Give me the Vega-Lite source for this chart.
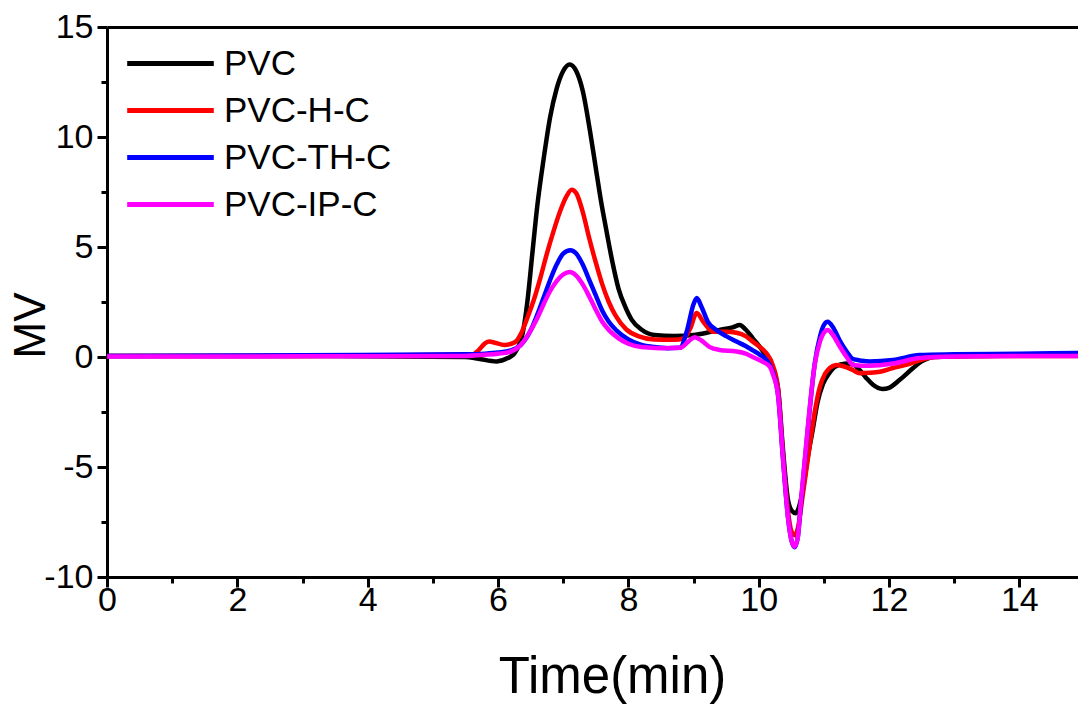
{
  "$schema": "https://vega.github.io/schema/vega-lite/v6.json",
  "autosize": {"type": "none"},
  "padding": {"left": 107, "top": 27, "right": 0, "bottom": 127},
  "width": 971,
  "height": 550,
  "background": "white",
  "config": {"view": {"stroke": null}, "font": "Liberation Sans"},
  "datasets": {
    "curves": [
      {"s":"PVC","t":0,"v":0.05},{"s":"PVC","t":3,"v":0.05},{"s":"PVC","t":5.5,"v":0.0},{"s":"PVC","t":5.7,"v":-0.08},{"s":"PVC","t":5.98,"v":-0.2},{"s":"PVC","t":6.15,"v":-0.05},{"s":"PVC","t":6.25,"v":0.15},{"s":"PVC","t":6.33,"v":0.6},{"s":"PVC","t":6.38,"v":1.1},{"s":"PVC","t":6.45,"v":2.5},{"s":"PVC","t":6.53,"v":4.8},{"s":"PVC","t":6.6,"v":6.8},{"s":"PVC","t":6.7,"v":9.0},{"s":"PVC","t":6.8,"v":10.9},{"s":"PVC","t":6.9,"v":12.2},{"s":"PVC","t":7.0,"v":13.0},{"s":"PVC","t":7.1,"v":13.3},{"s":"PVC","t":7.2,"v":13.0},{"s":"PVC","t":7.3,"v":12.1},{"s":"PVC","t":7.41,"v":10.3},{"s":"PVC","t":7.5,"v":8.6},{"s":"PVC","t":7.58,"v":7.1},{"s":"PVC","t":7.66,"v":5.8},{"s":"PVC","t":7.75,"v":4.4},{"s":"PVC","t":7.85,"v":3.1},{"s":"PVC","t":7.95,"v":2.3},{"s":"PVC","t":8.05,"v":1.7},{"s":"PVC","t":8.2,"v":1.25},{"s":"PVC","t":8.4,"v":1.0},{"s":"PVC","t":8.7,"v":0.95},{"s":"PVC","t":9.0,"v":1.0},{"s":"PVC","t":9.2,"v":1.1},{"s":"PVC","t":9.4,"v":1.23},{"s":"PVC","t":9.6,"v":1.35},{"s":"PVC","t":9.71,"v":1.45},{"s":"PVC","t":9.8,"v":1.25},{"s":"PVC","t":9.91,"v":0.85},{"s":"PVC","t":10.02,"v":0.45},{"s":"PVC","t":10.12,"v":0.02},{"s":"PVC","t":10.22,"v":-0.6},{"s":"PVC","t":10.3,"v":-1.5},{"s":"PVC","t":10.37,"v":-4.1},{"s":"PVC","t":10.45,"v":-6.5},{"s":"PVC","t":10.51,"v":-7.0},{"s":"PVC","t":10.57,"v":-7.1},{"s":"PVC","t":10.62,"v":-6.8},{"s":"PVC","t":10.68,"v":-6.0},{"s":"PVC","t":10.75,"v":-4.6},{"s":"PVC","t":10.83,"v":-3.3},{"s":"PVC","t":10.9,"v":-2.1},{"s":"PVC","t":10.99,"v":-1.2},{"s":"PVC","t":11.08,"v":-0.75},{"s":"PVC","t":11.17,"v":-0.45},{"s":"PVC","t":11.34,"v":-0.3},{"s":"PVC","t":11.45,"v":-0.35},{"s":"PVC","t":11.55,"v":-0.6},{"s":"PVC","t":11.65,"v":-0.95},{"s":"PVC","t":11.75,"v":-1.25},{"s":"PVC","t":11.9,"v":-1.45},{"s":"PVC","t":12.0,"v":-1.4},{"s":"PVC","t":12.16,"v":-1.05},{"s":"PVC","t":12.37,"v":-0.5},{"s":"PVC","t":12.5,"v":-0.2},{"s":"PVC","t":12.7,"v":0.0},{"s":"PVC","t":13.5,"v":0.05},{"s":"PVC","t":15,"v":0.1},
      {"s":"PVC-H-C","t":0,"v":0.05},{"s":"PVC-H-C","t":3,"v":0.05},{"s":"PVC-H-C","t":5.6,"v":0.1},{"s":"PVC-H-C","t":5.7,"v":0.3},{"s":"PVC-H-C","t":5.8,"v":0.62},{"s":"PVC-H-C","t":5.87,"v":0.7},{"s":"PVC-H-C","t":5.95,"v":0.65},{"s":"PVC-H-C","t":6.1,"v":0.55},{"s":"PVC-H-C","t":6.2,"v":0.6},{"s":"PVC-H-C","t":6.28,"v":0.72},{"s":"PVC-H-C","t":6.36,"v":1.1},{"s":"PVC-H-C","t":6.44,"v":1.7},{"s":"PVC-H-C","t":6.55,"v":2.6},{"s":"PVC-H-C","t":6.65,"v":3.6},{"s":"PVC-H-C","t":6.75,"v":4.7},{"s":"PVC-H-C","t":6.85,"v":5.7},{"s":"PVC-H-C","t":6.95,"v":6.6},{"s":"PVC-H-C","t":7.05,"v":7.3},{"s":"PVC-H-C","t":7.13,"v":7.6},{"s":"PVC-H-C","t":7.2,"v":7.45},{"s":"PVC-H-C","t":7.3,"v":6.6},{"s":"PVC-H-C","t":7.4,"v":5.4},{"s":"PVC-H-C","t":7.5,"v":4.3},{"s":"PVC-H-C","t":7.6,"v":3.3},{"s":"PVC-H-C","t":7.7,"v":2.5},{"s":"PVC-H-C","t":7.8,"v":1.9},{"s":"PVC-H-C","t":7.97,"v":1.25},{"s":"PVC-H-C","t":8.15,"v":0.95},{"s":"PVC-H-C","t":8.4,"v":0.8},{"s":"PVC-H-C","t":8.7,"v":0.78},{"s":"PVC-H-C","t":8.85,"v":0.85},{"s":"PVC-H-C","t":8.95,"v":1.3},{"s":"PVC-H-C","t":9.05,"v":2.0},{"s":"PVC-H-C","t":9.15,"v":1.6},{"s":"PVC-H-C","t":9.3,"v":1.15},{"s":"PVC-H-C","t":9.5,"v":1.15},{"s":"PVC-H-C","t":9.66,"v":1.1},{"s":"PVC-H-C","t":9.8,"v":0.95},{"s":"PVC-H-C","t":9.91,"v":0.7},{"s":"PVC-H-C","t":10.02,"v":0.45},{"s":"PVC-H-C","t":10.12,"v":0.17},{"s":"PVC-H-C","t":10.22,"v":-0.4},{"s":"PVC-H-C","t":10.3,"v":-1.5},{"s":"PVC-H-C","t":10.37,"v":-4.3},{"s":"PVC-H-C","t":10.45,"v":-7.0},{"s":"PVC-H-C","t":10.5,"v":-7.9},{"s":"PVC-H-C","t":10.55,"v":-8.1},{"s":"PVC-H-C","t":10.6,"v":-7.8},{"s":"PVC-H-C","t":10.68,"v":-6.2},{"s":"PVC-H-C","t":10.78,"v":-4.1},{"s":"PVC-H-C","t":10.86,"v":-2.5},{"s":"PVC-H-C","t":10.94,"v":-1.35},{"s":"PVC-H-C","t":11.02,"v":-0.75},{"s":"PVC-H-C","t":11.09,"v":-0.5},{"s":"PVC-H-C","t":11.19,"v":-0.36},{"s":"PVC-H-C","t":11.3,"v":-0.42},{"s":"PVC-H-C","t":11.45,"v":-0.6},{"s":"PVC-H-C","t":11.55,"v":-0.74},{"s":"PVC-H-C","t":11.7,"v":-0.72},{"s":"PVC-H-C","t":11.86,"v":-0.67},{"s":"PVC-H-C","t":12.06,"v":-0.5},{"s":"PVC-H-C","t":12.26,"v":-0.36},{"s":"PVC-H-C","t":12.47,"v":-0.15},{"s":"PVC-H-C","t":12.7,"v":0.0},{"s":"PVC-H-C","t":13.5,"v":0.05},{"s":"PVC-H-C","t":15,"v":0.05},
      {"s":"PVC-TH-C","t":0,"v":0.05},{"s":"PVC-TH-C","t":3,"v":0.08},{"s":"PVC-TH-C","t":5.5,"v":0.12},{"s":"PVC-TH-C","t":5.8,"v":0.15},{"s":"PVC-TH-C","t":6.0,"v":0.2},{"s":"PVC-TH-C","t":6.2,"v":0.3},{"s":"PVC-TH-C","t":6.35,"v":0.55},{"s":"PVC-TH-C","t":6.5,"v":1.2},{"s":"PVC-TH-C","t":6.6,"v":1.9},{"s":"PVC-TH-C","t":6.7,"v":2.7},{"s":"PVC-TH-C","t":6.8,"v":3.5},{"s":"PVC-TH-C","t":6.9,"v":4.2},{"s":"PVC-TH-C","t":7.0,"v":4.7},{"s":"PVC-TH-C","t":7.11,"v":4.85},{"s":"PVC-TH-C","t":7.2,"v":4.7},{"s":"PVC-TH-C","t":7.3,"v":4.2},{"s":"PVC-TH-C","t":7.4,"v":3.5},{"s":"PVC-TH-C","t":7.5,"v":2.8},{"s":"PVC-TH-C","t":7.6,"v":2.1},{"s":"PVC-TH-C","t":7.7,"v":1.6},{"s":"PVC-TH-C","t":7.82,"v":1.2},{"s":"PVC-TH-C","t":8.0,"v":0.8},{"s":"PVC-TH-C","t":8.2,"v":0.55},{"s":"PVC-TH-C","t":8.4,"v":0.45},{"s":"PVC-TH-C","t":8.6,"v":0.4},{"s":"PVC-TH-C","t":8.79,"v":0.42},{"s":"PVC-TH-C","t":8.9,"v":1.2},{"s":"PVC-TH-C","t":9.0,"v":2.4},{"s":"PVC-TH-C","t":9.05,"v":2.68},{"s":"PVC-TH-C","t":9.12,"v":2.3},{"s":"PVC-TH-C","t":9.22,"v":1.6},{"s":"PVC-TH-C","t":9.35,"v":1.23},{"s":"PVC-TH-C","t":9.5,"v":0.95},{"s":"PVC-TH-C","t":9.66,"v":0.7},{"s":"PVC-TH-C","t":9.8,"v":0.5},{"s":"PVC-TH-C","t":9.91,"v":0.3},{"s":"PVC-TH-C","t":10.02,"v":0.1},{"s":"PVC-TH-C","t":10.12,"v":-0.14},{"s":"PVC-TH-C","t":10.22,"v":-0.7},{"s":"PVC-TH-C","t":10.3,"v":-1.8},{"s":"PVC-TH-C","t":10.37,"v":-4.5},{"s":"PVC-TH-C","t":10.45,"v":-7.3},{"s":"PVC-TH-C","t":10.5,"v":-8.3},{"s":"PVC-TH-C","t":10.55,"v":-8.65},{"s":"PVC-TH-C","t":10.6,"v":-8.2},{"s":"PVC-TH-C","t":10.65,"v":-6.6},{"s":"PVC-TH-C","t":10.76,"v":-3.1},{"s":"PVC-TH-C","t":10.86,"v":-0.3},{"s":"PVC-TH-C","t":10.94,"v":0.92},{"s":"PVC-TH-C","t":11.0,"v":1.45},{"s":"PVC-TH-C","t":11.06,"v":1.6},{"s":"PVC-TH-C","t":11.14,"v":1.35},{"s":"PVC-TH-C","t":11.24,"v":0.77},{"s":"PVC-TH-C","t":11.35,"v":0.25},{"s":"PVC-TH-C","t":11.45,"v":-0.1},{"s":"PVC-TH-C","t":11.7,"v":-0.2},{"s":"PVC-TH-C","t":12.06,"v":-0.14},{"s":"PVC-TH-C","t":12.47,"v":0.09},{"s":"PVC-TH-C","t":13.0,"v":0.12},{"s":"PVC-TH-C","t":14.0,"v":0.15},{"s":"PVC-TH-C","t":15,"v":0.18},
      {"s":"PVC-IP-C","t":0,"v":0.02},{"s":"PVC-IP-C","t":3,"v":0.03},{"s":"PVC-IP-C","t":5.5,"v":0.05},{"s":"PVC-IP-C","t":5.8,"v":0.1},{"s":"PVC-IP-C","t":6.0,"v":0.15},{"s":"PVC-IP-C","t":6.2,"v":0.25},{"s":"PVC-IP-C","t":6.35,"v":0.55},{"s":"PVC-IP-C","t":6.5,"v":1.2},{"s":"PVC-IP-C","t":6.6,"v":1.75},{"s":"PVC-IP-C","t":6.7,"v":2.4},{"s":"PVC-IP-C","t":6.8,"v":3.0},{"s":"PVC-IP-C","t":6.9,"v":3.45},{"s":"PVC-IP-C","t":7.0,"v":3.75},{"s":"PVC-IP-C","t":7.1,"v":3.86},{"s":"PVC-IP-C","t":7.2,"v":3.7},{"s":"PVC-IP-C","t":7.3,"v":3.3},{"s":"PVC-IP-C","t":7.4,"v":2.75},{"s":"PVC-IP-C","t":7.5,"v":2.15},{"s":"PVC-IP-C","t":7.6,"v":1.6},{"s":"PVC-IP-C","t":7.71,"v":1.2},{"s":"PVC-IP-C","t":7.85,"v":0.85},{"s":"PVC-IP-C","t":8.0,"v":0.6},{"s":"PVC-IP-C","t":8.2,"v":0.45},{"s":"PVC-IP-C","t":8.5,"v":0.4},{"s":"PVC-IP-C","t":8.8,"v":0.42},{"s":"PVC-IP-C","t":8.92,"v":0.7},{"s":"PVC-IP-C","t":9.02,"v":0.9},{"s":"PVC-IP-C","t":9.12,"v":0.75},{"s":"PVC-IP-C","t":9.25,"v":0.45},{"s":"PVC-IP-C","t":9.4,"v":0.32},{"s":"PVC-IP-C","t":9.66,"v":0.25},{"s":"PVC-IP-C","t":9.8,"v":0.15},{"s":"PVC-IP-C","t":9.91,"v":0.0},{"s":"PVC-IP-C","t":10.05,"v":-0.2},{"s":"PVC-IP-C","t":10.17,"v":-0.44},{"s":"PVC-IP-C","t":10.22,"v":-0.8},{"s":"PVC-IP-C","t":10.3,"v":-1.8},{"s":"PVC-IP-C","t":10.37,"v":-4.5},{"s":"PVC-IP-C","t":10.45,"v":-7.3},{"s":"PVC-IP-C","t":10.5,"v":-8.3},{"s":"PVC-IP-C","t":10.55,"v":-8.62},{"s":"PVC-IP-C","t":10.6,"v":-8.2},{"s":"PVC-IP-C","t":10.65,"v":-6.5},{"s":"PVC-IP-C","t":10.76,"v":-3.0},{"s":"PVC-IP-C","t":10.86,"v":-0.35},{"s":"PVC-IP-C","t":10.94,"v":0.7},{"s":"PVC-IP-C","t":11.0,"v":1.1},{"s":"PVC-IP-C","t":11.06,"v":1.23},{"s":"PVC-IP-C","t":11.14,"v":1.0},{"s":"PVC-IP-C","t":11.24,"v":0.5},{"s":"PVC-IP-C","t":11.35,"v":0.0},{"s":"PVC-IP-C","t":11.45,"v":-0.36},{"s":"PVC-IP-C","t":11.7,"v":-0.4},{"s":"PVC-IP-C","t":12.06,"v":-0.3},{"s":"PVC-IP-C","t":12.47,"v":-0.05},{"s":"PVC-IP-C","t":13.0,"v":0.02},{"s":"PVC-IP-C","t":14.0,"v":0.05},{"s":"PVC-IP-C","t":15,"v":0.05}
    ]
  },
  "data": {"name": "curves"},
  "resolve": {"axis": {"x": "independent", "y": "independent"}},
  "layer": [
    {
      "mark": {"type": "line", "strokeOpacity": 0, "clip": true},
      "encoding": {
        "x": {"field": "t", "type": "quantitative", "scale": {"domain": [0, 14.9], "nice": false, "zero": false},
              "axis": {"orient": "top", "title": null, "labels": false, "ticks": false, "grid": false, "domain": true, "domainColor": "black", "domainWidth": 3}},
        "y": {"field": "v", "type": "quantitative", "scale": {"domain": [-10, 15], "nice": false},
              "axis": {"orient": "left", "values": [-7.5, -2.5, 2.5, 7.5, 12.5], "title": null, "labels": false, "grid": false, "domain": false, "ticks": true, "tickSize": 6, "tickWidth": 3, "tickColor": "black"}},
        "detail": {"field": "s"}
      }
    },
    {
      "mark": {"type": "line", "strokeOpacity": 0, "clip": true},
      "encoding": {
        "x": {"field": "t", "type": "quantitative",
              "axis": {"orient": "bottom", "values": [1, 3, 5, 7, 9, 11, 13], "title": null, "labels": false, "grid": false, "domain": false, "ticks": true, "tickSize": 6, "tickWidth": 3, "tickColor": "black"}},
        "y": {"field": "v", "type": "quantitative", "axis": null},
        "detail": {"field": "s"}
      }
    },
    {
      "mark": {"type": "line", "strokeWidth": 4.5, "interpolate": "monotone", "clip": true},
      "encoding": {
        "x": {"field": "t", "type": "quantitative",
              "axis": {"orient": "bottom", "values": [0, 2, 4, 6, 8, 10, 12, 14], "title": "Time(min)", "grid": false, "domain": true, "domainColor": "black", "domainWidth": 3, "ticks": true, "tickSize": 10, "tickWidth": 3, "tickColor": "black", "labelFontSize": 34, "labelColor": "black", "labelPadding": -4, "labelFlush": false, "labelFont": "Liberation Sans", "titleFont": "Liberation Sans", "titleFontSize": 51, "titleFontWeight": "normal", "titleColor": "black", "titleX": 505, "titleY": 115, "titleBaseline": "alphabetic"}},
        "y": {"field": "v", "type": "quantitative",
              "axis": {"orient": "left", "values": [-10, -5, 0, 5, 10, 15], "labelExpr": "datum.value < 0 ? '-' + abs(datum.value) : '' + datum.value", "title": "MV", "grid": false, "domain": true, "domainColor": "black", "domainWidth": 3, "ticks": true, "tickSize": 10, "tickWidth": 3, "tickColor": "black", "labelFontSize": 34, "labelColor": "black", "labelPadding": 4, "labelFlush": false, "labelFont": "Liberation Sans", "titleFont": "Liberation Sans", "titleFontSize": 44, "titleFontWeight": "normal", "titleColor": "black", "titleAngle": -90, "titleX": -63, "titleY": 298, "titleBaseline": "alphabetic", "titleAlign": "center"}},
        "color": {"field": "s", "type": "nominal", "sort": ["PVC", "PVC-H-C", "PVC-TH-C", "PVC-IP-C"],
                  "scale": {"domain": ["PVC", "PVC-H-C", "PVC-TH-C", "PVC-IP-C"], "range": ["#000000", "#ff0000", "#0000ff", "#ff00ff"]},
                  "legend": {"orient": "none", "legendX": 46, "legendY": 19, "title": null, "symbolType": "M-5,0H5", "symbolSize": 300, "symbolStrokeWidth": 5, "labelFontSize": 35, "labelLimit": 0, "labelFont": "Liberation Sans", "labelColor": "black", "labelOffset": 36, "rowPadding": 11, "padding": 0}}
      }
    }
  ]
}
